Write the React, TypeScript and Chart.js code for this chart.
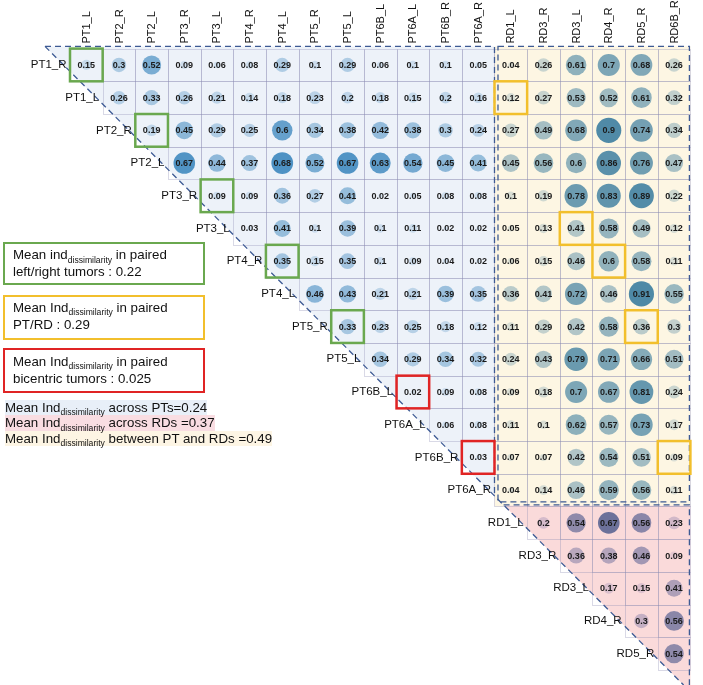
import React, { useEffect, useRef } from "react";
import { Chart, registerables } from "chart.js";

Chart.register(...registerables);

// ---------- DATA ----------
const columnLabels = ["PT1_L", "PT2_R", "PT2_L", "PT3_R", "PT3_L", "PT4_R", "PT4_L", "PT5_R", "PT5_L", "PT6B_L", "PT6A_L", "PT6B_R", "PT6A_R", "RD1_L", "RD3_R", "RD3_L", "RD4_R", "RD5_R", "RD6B_R"];
const rowLabels = ["PT1_R", "PT1_L", "PT2_R", "PT2_L", "PT3_R", "PT3_L", "PT4_R", "PT4_L", "PT5_R", "PT5_L", "PT6B_L", "PT6A_L", "PT6B_R", "PT6A_R", "RD1_L", "RD3_R", "RD3_L", "RD4_R", "RD5_R"];

// each row's values start at the diagonal column (column index = row index)
const rowPT1_R = [0.15, 0.3, 0.52, 0.09, 0.06, 0.08, 0.29, 0.1, 0.29, 0.06, 0.1, 0.1, 0.05, 0.04, 0.26, 0.61, 0.7, 0.68, 0.26];
const rowPT1_L = [0.26, 0.33, 0.26, 0.21, 0.14, 0.18, 0.23, 0.2, 0.18, 0.15, 0.2, 0.16, 0.12, 0.27, 0.53, 0.52, 0.61, 0.32];
const rowPT2_R = [0.19, 0.45, 0.29, 0.25, 0.6, 0.34, 0.38, 0.42, 0.38, 0.3, 0.24, 0.27, 0.49, 0.68, 0.9, 0.74, 0.34];
const rowPT2_L = [0.67, 0.44, 0.37, 0.68, 0.52, 0.67, 0.63, 0.54, 0.45, 0.41, 0.45, 0.56, 0.6, 0.86, 0.76, 0.47];
const rowPT3_R = [0.09, 0.09, 0.36, 0.27, 0.41, 0.02, 0.05, 0.08, 0.08, 0.1, 0.19, 0.78, 0.83, 0.89, 0.22];
const rowPT3_L = [0.03, 0.41, 0.1, 0.39, 0.1, 0.11, 0.02, 0.02, 0.05, 0.13, 0.41, 0.58, 0.49, 0.12];
const rowPT4_R = [0.35, 0.15, 0.35, 0.1, 0.09, 0.04, 0.02, 0.06, 0.15, 0.46, 0.6, 0.58, 0.11];
const rowPT4_L = [0.46, 0.43, 0.21, 0.21, 0.39, 0.35, 0.36, 0.41, 0.72, 0.46, 0.91, 0.55];
const rowPT5_R = [0.33, 0.23, 0.25, 0.18, 0.12, 0.11, 0.29, 0.42, 0.58, 0.36, 0.3];
const rowPT5_L = [0.34, 0.29, 0.34, 0.32, 0.24, 0.43, 0.79, 0.71, 0.66, 0.51];
const rowPT6B_L = [0.02, 0.09, 0.08, 0.09, 0.18, 0.7, 0.67, 0.81, 0.24];
const rowPT6A_L = [0.06, 0.08, 0.11, 0.1, 0.62, 0.57, 0.73, 0.17];
const rowPT6B_R = [0.03, 0.07, 0.07, 0.42, 0.54, 0.51, 0.09];
const rowPT6A_R = [0.04, 0.14, 0.46, 0.59, 0.56, 0.11];
const rowRD1_L = [0.2, 0.54, 0.67, 0.56, 0.23];
const rowRD3_R = [0.36, 0.38, 0.46, 0.09];
const rowRD3_L = [0.17, 0.15, 0.41];
const rowRD4_R = [0.3, 0.56];
const rowRD5_R = [0.54];

const upperRows = [rowPT1_R, rowPT1_L, rowPT2_R, rowPT2_L, rowPT3_R, rowPT3_L, rowPT4_R, rowPT4_L, rowPT5_R, rowPT5_L, rowPT6B_L, rowPT6A_L, rowPT6B_R, rowPT6A_R, rowRD1_L, rowRD3_R, rowRD3_L, rowRD4_R, rowRD5_R];

const ptColumnCount = 13; // PT1_L .. PT6A_R
const ptRowCount = 14; // PT1_R .. PT6A_R

const greenPairs = [["PT1_R", "PT1_L"], ["PT2_R", "PT2_L"], ["PT3_R", "PT3_L"], ["PT4_R", "PT4_L"], ["PT5_R", "PT5_L"]];
const yellowPairs = [["PT1_L", "RD1_L"], ["PT3_L", "RD3_L"], ["PT4_R", "RD4_R"], ["PT5_R", "RD5_R"], ["PT6B_R", "RD6B_R"]];
const redPairs = [["PT6B_L", "PT6A_L"], ["PT6B_R", "PT6A_R"]];

// ---------- STYLE ----------
const FONT = '"Liberation Sans", Arial, Helvetica, sans-serif';
const blockStyle = {
  pt: { pale: [212, 226, 240], dark: [78, 146, 196], max: 0.68, bg: "#edf2f9" },
  ptrd: { pale: [222, 225, 214], dark: [78, 137, 166], max: 0.91, bg: "#fdf6e3" },
  rd: { pale: [234, 202, 212], dark: [108, 113, 154], max: 0.67, bg: "#fadada" },
};

function blockOf(r: number, c: number) {
  if (r < ptRowCount && c < ptColumnCount) return "pt";
  if (r < ptRowCount) return "ptrd";
  return "rd";
}

function mix(a: number[], b: number[], t: number) {
  const k = Math.max(0, Math.min(1, t));
  const v = a.map((x, i) => Math.round(x + (b[i] - x) * k));
  return `rgb(${v[0]},${v[1]},${v[2]})`;
}

function buildPoints(block: string) {
  const pts: any[] = [];
  upperRows.forEach((vals, r) => {
    vals.forEach((v, k) => {
      const c = r + k;
      if (blockOf(r, c) === block) pts.push({ x: c, y: r, r: 13.2 * Math.sqrt(v), v });
    });
  });
  return pts;
}

function colorsFor(points: any[], block: string) {
  const s = (blockStyle as any)[block];
  return points.map((p) => mix(s.pale, s.dark, Math.pow(p.v / s.max, 1.5)));
}

const decorPlugin = {
  id: "decor",
  beforeDatasetsDraw(chart: any) {
    const { ctx, chartArea } = chart;
    const xs = chart.scales.x;
    const ys = chart.scales.y;
    const L = (c: number) => xs.getPixelForValue(c - 0.5);
    const T = (r: number) => ys.getPixelForValue(r - 0.5);
    const top = chartArea.top - 2.2;
    const d0x = chartArea.left - 25;
    const d0y = top;
    const xd = (y: number) => d0x + (y - d0y);
    const yd = (x: number) => d0y + (x - d0x);
    const ptRight = L(ptColumnCount);
    const rdTop = T(ptRowCount);
    const right = chartArea.right;
    const H = chart.height;

    ctx.save();
    // blue PT region
    ctx.fillStyle = blockStyle.pt.bg;
    ctx.beginPath();
    ctx.moveTo(d0x, d0y);
    ctx.lineTo(ptRight, top);
    ctx.lineTo(ptRight, yd(ptRight));
    ctx.closePath();
    ctx.fill();
    // yellow PT/RD region
    ctx.fillStyle = blockStyle.ptrd.bg;
    ctx.fillRect(ptRight, top, right - ptRight, rdTop - top);
    // pink RD region
    ctx.fillStyle = blockStyle.rd.bg;
    ctx.beginPath();
    ctx.moveTo(xd(rdTop - 1), rdTop - 1);
    ctx.lineTo(right, rdTop - 1);
    ctx.lineTo(right, H);
    ctx.lineTo(xd(H), H);
    ctx.closePath();
    ctx.fill();

    // cell borders
    ctx.strokeStyle = "rgba(140,140,180,0.33)";
    ctx.lineWidth = 1;
    upperRows.forEach((vals, r) => {
      vals.forEach((_v, k) => {
        const c = r + k;
        const x0 = Math.round(L(c)) + 0.5;
        const x1 = Math.round(L(c + 1)) + 0.5;
        const y0 = Math.round(T(r)) + 0.5;
        const y1 = Math.round(T(r + 1)) + 0.5;
        ctx.strokeRect(x0, y0, x1 - x0, y1 - y0);
      });
    });
    ctx.restore();
  },
  afterDatasetsDraw(chart: any) {
    const { ctx, chartArea } = chart;
    const xs = chart.scales.x;
    const ys = chart.scales.y;
    const L = (c: number) => xs.getPixelForValue(c - 0.5);
    const T = (r: number) => ys.getPixelForValue(r - 0.5);
    const top = chartArea.top - 2.2;
    const d0x = chartArea.left - 25;
    const d0y = top;
    const xd = (y: number) => d0x + (y - d0y);
    const yd = (x: number) => d0y + (x - d0x);
    const ptRight = L(ptColumnCount);
    const rdTop = T(ptRowCount);
    const right = chartArea.right - 1;
    const H = chart.height;

    ctx.save();
    // values
    ctx.fillStyle = "#1b1b1b";
    ctx.font = `bold 9px ${FONT}`;
    ctx.textAlign = "center";
    ctx.textBaseline = "middle";
    upperRows.forEach((vals, r) => {
      vals.forEach((v, k) => {
        const c = r + k;
        ctx.fillText(String(v), xs.getPixelForValue(c), ys.getPixelForValue(r) + 0.5);
      });
    });

    // dashed frames
    ctx.strokeStyle = "#3d5a94";
    ctx.lineWidth = 1.3;
    ctx.setLineDash([6, 4]);
    ctx.beginPath();
    ctx.moveTo(d0x, top);
    ctx.lineTo(ptRight, top);
    ctx.lineTo(ptRight, yd(ptRight));
    ctx.stroke();
    ctx.beginPath();
    ctx.moveTo(d0x, d0y);
    ctx.lineTo(xd(H), H);
    ctx.stroke();
    ctx.strokeRect(ptRight + 3.5, top, right - ptRight - 3.5, rdTop - 4.5 - top);
    ctx.beginPath();
    ctx.moveTo(xd(rdTop - 1.5), rdTop - 1.5);
    ctx.lineTo(right, rdTop - 1.5);
    ctx.lineTo(right, H);
    ctx.stroke();
    ctx.setLineDash([]);

    // highlight boxes
    const box = (pairs: string[][], color: string) => {
      ctx.strokeStyle = color;
      ctx.lineWidth = 2.5;
      pairs.forEach(([a, b]) => {
        const r = rowLabels.indexOf(a);
        const c = columnLabels.indexOf(b);
        ctx.strokeRect(L(c), T(r), L(c + 1) - L(c), T(r + 1) - T(r));
      });
    };
    box(greenPairs, "#6aa84f");
    box(yellowPairs, "#f2bf2c");
    box(redPairs, "#e02424");

    // row labels
    ctx.fillStyle = "#111";
    ctx.font = `11.5px ${FONT}`;
    ctx.textAlign = "right";
    ctx.textBaseline = "middle";
    rowLabels.forEach((lab, r) => {
      ctx.fillText(lab, L(r) - 3.5, ys.getPixelForValue(r));
    });

    // column labels
    ctx.font = `11px ${FONT}`;
    ctx.textAlign = "left";
    columnLabels.forEach((lab, c) => {
      ctx.save();
      ctx.translate(xs.getPixelForValue(c) + 0.5, chartArea.top - 5);
      ctx.rotate(-Math.PI / 2);
      ctx.fillText(lab, 0, 0);
      ctx.restore();
    });
    ctx.restore();
  },
};

function Sub() {
  return <span style={{ fontSize: 8.6, position: "relative", top: 3.5 }}>dissimilarity</span>;
}

export default function App() {
  const ref = useRef<HTMLCanvasElement | null>(null);

  useEffect(() => {
    if (!ref.current) return;
    const blocks = ["pt", "ptrd", "rd"];
    const datasets = blocks.map((b) => {
      const pts = buildPoints(b);
      return {
        label: b,
        data: pts,
        backgroundColor: colorsFor(pts, b),
        borderWidth: 0,
        hoverBorderWidth: 0,
      };
    });
    const chart = new Chart(ref.current, {
      type: "bubble",
      data: { datasets },
      options: {
        animation: false,
        responsive: false,
        events: [],
        layout: { padding: { left: 70, top: 48.6, right: 1, bottom: 15 } },
        plugins: { legend: { display: false }, tooltip: { enabled: false } },
        scales: {
          x: { type: "linear", min: -0.5, max: 18.5, display: false },
          y: { type: "linear", min: -0.5, max: 18.5, reverse: true, display: false },
        },
      },
      plugins: [decorPlugin],
    } as any);
    return () => chart.destroy();
  }, []);

  const boxBase: React.CSSProperties = {
    position: "absolute",
    left: 3,
    width: 202,
    boxSizing: "border-box",
    fontSize: 13.3,
    color: "#111",
    whiteSpace: "nowrap",
  };
  const statLine: React.CSSProperties = { height: 15.5, lineHeight: "15.5px", whiteSpace: "nowrap" };

  return (
    <div style={{ position: "fixed", left: 0, top: 0, width: 703, height: 685, background: "#fff", fontFamily: FONT, overflow: "hidden" }}>
      <canvas ref={ref} width={703} height={685} style={{ position: "absolute", left: 0, top: 0, width: 703, height: 685 }} />
      <div style={{ ...boxBase, top: 242, height: 43, border: "2.5px solid #6aa84f", padding: "3px 0 0 8px", lineHeight: "16px" }}>
        <div>Mean ind<Sub /> in paired</div>
        <div>left/right tumors : 0.22</div>
      </div>
      <div style={{ ...boxBase, top: 295, height: 45, border: "2.5px solid #f2bf2c", padding: "2.5px 0 0 8px", lineHeight: "16.5px" }}>
        <div>Mean Ind<Sub /> in paired</div>
        <div>PT/RD : 0.29</div>
      </div>
      <div style={{ ...boxBase, top: 348, height: 45, border: "2.5px solid #e02424", padding: "3.5px 0 0 8px", lineHeight: "16px" }}>
        <div>Mean Ind<Sub /> in paired</div>
        <div>bicentric tumors : 0.025</div>
      </div>
      <div style={{ position: "absolute", left: 5, top: 399.5, fontSize: 13.3, color: "#111" }}>
        <div style={statLine}><span style={{ background: "#e8eff8", display: "inline-block", height: 15.5 }}>Mean Ind<Sub /> across PTs=0.24</span></div>
        <div style={statLine}><span style={{ background: "#f9dde2", display: "inline-block", height: 15.5 }}>Mean Ind<Sub /> across RDs =0.37</span></div>
        <div style={statLine}><span style={{ background: "#fdf5e4", display: "inline-block", height: 15.5 }}>Mean Ind<Sub /> between PT and RDs =0.49</span></div>
      </div>
    </div>
  );
}
